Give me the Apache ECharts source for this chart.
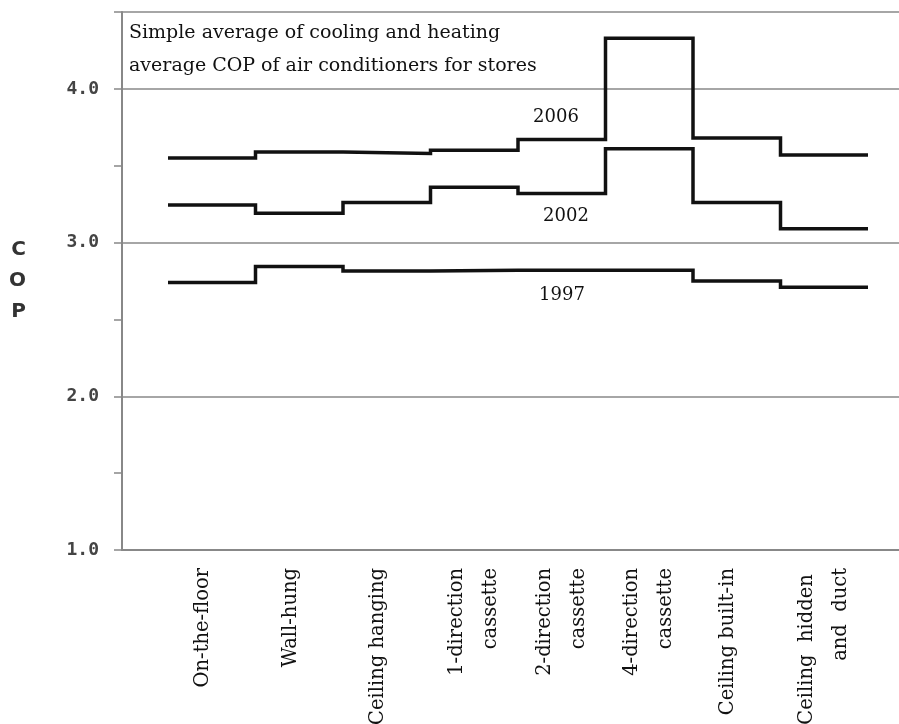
<!DOCTYPE html>
<html>
<head>
<meta charset="utf-8">
<title>COP of air conditioners for stores</title>
<script src="https://cdn.jsdelivr.net/npm/echarts@6/dist/echarts.min.js"></script>
<style>
    html, body { margin: 0; padding: 0; background: #fff; }
    #cop-step { width: 899px; height: 724px; }
</style>
</head>
<body>
<div id="cop-step"></div>
<script>
    "use strict";
    // ------------------------------
    // Data
    // ------------------------------
    var categories = ['On-the-floor', 'Wall-hung', 'Ceiling hanging', '1-direction\ncassette',
        '2-direction\ncassette', '4-direction\ncassette', 'Ceiling built-in', 'Ceiling  hidden \nand  duct'];
    var cop2006 = [3.55, 3.59, 3.58, 3.60, 3.67, 4.33, 3.68, 3.57];
    var cop2002 = [3.245, 3.19, 3.26, 3.36, 3.32, 3.61, 3.26, 3.09];
    var cop1997 = [2.74, 2.845, 2.815, 2.82, 2.82, 2.82, 2.75, 2.71];
    var yearNames = ['2006', '2002', '1997'];
    var yTicks = [1, 4.5, 0.5];   // min, max, tick step

    // step points: each category covers one band (i - 0.5 .. i + 0.5)
    function toSteps(values) {
        var pts = [];
        for (var i = 0; i < values.length; i++) {
            pts.push([i - 0.5, values[i]]);
        }
        pts.push([values.length - 0.5, values[values.length - 1]]);
        return pts;
    }

    var serifFont = 'DejaVu Serif';
    var copChart = echarts.init(document.getElementById('cop-step'));

    var option = {
        backgroundColor: '#fff',
        animation: false,

        // Title inside the frame
        title: {
            text: 'Simple average of cooling and heating\naverage COP of air conditioners for stores',
            left: 129,
            top: 17,
            padding: 0,
            textStyle: {
                fontFamily: serifFont,
                fontSize: 19,
                fontWeight: 'normal',
                lineHeight: 33,
                color: '#111'
            }
        },

        // Setup grids: frame grid + data grid (bands)
        grid: [
            { left: 122, right: 0, top: 12, bottom: 174, outerBoundsMode: 'none' },
            { left: 168, right: 31, top: 12, bottom: 174, outerBoundsMode: 'none' }
        ],

        // Horizontal axes
        xAxis: [
            {
                gridIndex: 0, type: 'value', min: 0, max: 1,
                position: 'bottom',
                axisLine: { lineStyle: { color: '#888', width: 2 } },
                axisTick: { show: false },
                axisLabel: { show: false },
                splitLine: { show: false }
            },
            {
                gridIndex: 1, type: 'value', min: -0.5, max: categories.length - 0.5,
                position: 'bottom',
                show: false
            },
            {
                gridIndex: 1, type: 'category', data: categories,
                position: 'bottom',
                boundaryGap: true,
                axisLine: { show: false },
                axisTick: { show: false },
                axisLabel: {
                    rotate: 90,
                    margin: 18,
                    interval: 0,
                    fontFamily: serifFont,
                    fontSize: 19.5,
                    lineHeight: 34,
                    color: '#111',
                    formatter: function (name) {
                        return name.indexOf('\n') < 0 ? '{s|' + name + '}' : name;
                    },
                    rich: {
                        s: {
                            fontFamily: serifFont,
                            fontSize: 19.5,
                            color: '#111',
                            padding: [0, 0, 17, 0]
                        }
                    }
                }
            }
        ],

        // Vertical axes
        yAxis: [
            {
                gridIndex: 0, type: 'value',
                min: yTicks[0], max: yTicks[1], interval: yTicks[2],
                name: 'C\nO\nP',
                nameLocation: 'middle',
                nameRotate: 0,
                nameGap: 96,
                nameTextStyle: {
                    fontFamily: 'DejaVu Sans',
                    fontSize: 20,
                    fontWeight: 'bold',
                    lineHeight: 31,
                    color: '#333'
                },
                axisLine: { show: true, lineStyle: { color: '#888', width: 2 } },
                axisTick: { show: true, length: 8, lineStyle: { color: '#888', width: 1.5 } },
                axisLabel: {
                    margin: 23,
                    fontFamily: 'DejaVu Sans Mono',
                    fontSize: 18,
                    fontWeight: 'bold',
                    color: '#444',
                    formatter: function (v) {
                        return (v % 1 === 0 && v < yTicks[1]) ? v.toFixed(1) : '';
                    }
                },
                splitLine: { show: false }
            },
            {
                gridIndex: 0, type: 'value',
                min: yTicks[0], max: yTicks[1], interval: 1,
                axisLine: { show: false },
                axisTick: { show: false },
                axisLabel: { show: false },
                splitLine: { show: true, lineStyle: { color: '#888', width: 1.5 } }
            },
            {
                gridIndex: 1, type: 'value',
                min: yTicks[0], max: yTicks[1],
                show: false
            }
        ],

        // Year annotations
        graphic: [
            { type: 'text', x: 556, y: 117, style: { text: yearNames[0], fontFamily: serifFont, fontSize: 18, fill: '#111', align: 'center', verticalAlign: 'middle' } },
            { type: 'text', x: 566, y: 216, style: { text: yearNames[1], fontFamily: serifFont, fontSize: 18, fill: '#111', align: 'center', verticalAlign: 'middle' } },
            { type: 'text', x: 562, y: 295, style: { text: yearNames[2], fontFamily: serifFont, fontSize: 18, fill: '#111', align: 'center', verticalAlign: 'middle' } }
        ],

        // Add series
        series: [
            { name: yearNames[0], data: toSteps(cop2006) },
            { name: yearNames[1], data: toSteps(cop2002) },
            { name: yearNames[2], data: toSteps(cop1997) }
        ].map(function (s) {
            return {
                name: s.name,
                type: 'line',
                xAxisIndex: 1,
                yAxisIndex: 2,
                step: 'end',
                symbol: 'none',
                lineStyle: { color: '#111', width: 3.5, join: 'miter' },
                data: s.data
            };
        })
    };
    copChart.setOption(option);
</script>
</body>
</html>
